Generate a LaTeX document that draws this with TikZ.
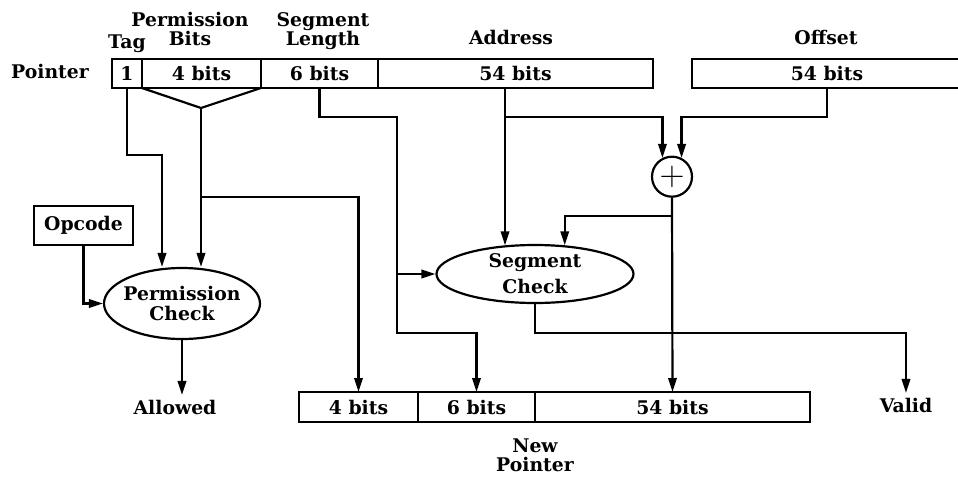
\documentclass[tikz,border=0pt]{standalone}
\usepackage{fontspec}
\setmainfont{DejaVu Serif}
\usetikzlibrary{positioning, arrows.meta, shapes.geometric}
\tikzstyle{field_box}=[draw, line width=1.1pt, minimum height=14.5pt, inner sep=0pt, outer sep=0pt]
\tikzstyle{check_node}=[ellipse, draw, line width=1.1pt, inner sep=0pt, align=center]
\tikzstyle{label_text}=[inner sep=0pt, text depth=0pt, anchor=south, align=center]
\tikzstyle{wire}=[line width=1.1pt]

\begin{document}
\begin{tikzpicture}[x=0.5pt, y=-0.5pt, >={Triangle[length=7pt, width=4.2pt]},
    every node/.style={font=\bfseries\fontsize{9.4}{9.6}\selectfont}]
    \useasboundingbox (0,0) rectangle (958,477);

    \node[field_box, minimum width=15pt] at (127,73.5) (tag) {1};
    \node[field_box, minimum width=59.5pt] at (201.5,73.5) (perm) {4 bits};
    \node[field_box, minimum width=58.5pt] at (319.5,73.5) (seglen) {6 bits};
    \node[field_box, minimum width=137.5pt] at (515.5,73.5) (addr) {54 bits};
    \node[field_box, minimum width=135pt] at (827,73.5) (offset) {54 bits};

    \node[field_box, minimum width=59.5pt, minimum height=15pt] at (358.5,407) (np4) {4 bits};
    \node[field_box, minimum width=58.5pt, minimum height=15pt] at (476.5,407) (np6) {6 bits};
    \node[field_box, minimum width=137.5pt, minimum height=15pt] at (672.5,407) (np54) {54 bits};

    \node[field_box, minimum width=49.5pt, minimum height=19.5pt] at (83.5,225.5) (opcode) {Opcode};
    \node[check_node, inner xsep=-4pt, minimum width=78pt, minimum height=35.5pt] at (182,303.5) (permchk) {Permission\\Check};
    \node[check_node, inner xsep=-2pt, minimum width=98.5pt, minimum height=29pt, font=\bfseries\fontsize{9.4}{13}\selectfont] at (535,274) (segchk) {Segment\\Check};
    \node[circle, draw, line width=1.1pt, minimum size=20pt, inner sep=0pt, font=\normalfont\fontsize{17}{17}\selectfont] at (672,176.7) (plus) {$+$};

    \node[label_text] at (50,79) (ptrlbl) {Pointer};
    \node[label_text] at (127,49) (taglbl) {Tag};
    \node[label_text] at (190,46) (permlbl) {Permission\\Bits};
    \node[label_text] at (323,46) (seglbl) {Segment\\Length};
    \node[label_text] at (511,45) (addrlbl) {Address};
    \node[label_text] at (826,45) (offlbl) {Offset};
    \node[label_text] at (175,415) (allowed) {Allowed};
    \node[label_text] at (906,413) (valid) {Valid};
    \node[label_text] at (535,472) (newptr) {New\\Pointer};

    \coordinate (tagturn) at (162,155);
    \coordinate (funnel) at (201,108);
    \coordinate (permtap) at (201,197);
    \coordinate (segturn) at (397,117);
    \coordinate (segdrop) at (397,333);
    \coordinate (addrout) at (505,88);
    \coordinate (addrturn) at (505,117);
    \coordinate (plustap) at (672,216);

    \draw[->, wire] (tag.south) |- (tagturn) -- (tagturn |- permchk.north);
    \draw[wire] (perm.south west) -- (funnel) -- (perm.south east);
    \draw[->, wire] (funnel) -- (funnel |- permchk.north);
    \draw[->, wire] (permtap) -| (np4.north);
    \draw[->, wire] (seglen.south) |- (segturn) -- (segdrop) -| (np6.north);
    \draw[->, wire] (segturn |- segchk.west) -- (segchk.west);
    \draw[->, wire] (addrout) -- (addrout |- segchk.137);
    \draw[->, wire] (addrturn) -| (plus.117);
    \draw[->, wire] (offset.south) |- (addrturn -| plus.63) -- (plus.63);
    \draw[->, wire] (plus.south) -- (np54.north);
    \draw[->, wire] (plustap) -| (segchk.44);
    \draw[->, wire] (opcode.south) |- (permchk.west);
    \draw[->, wire, shorten >=2.5pt] (permchk.south) -- (permchk.south |- allowed.north);
    \draw[->, wire, shorten >=2.5pt] (segchk.south) |- (segdrop -| valid.north) -- (valid.north);
\end{tikzpicture}
\end{document}
